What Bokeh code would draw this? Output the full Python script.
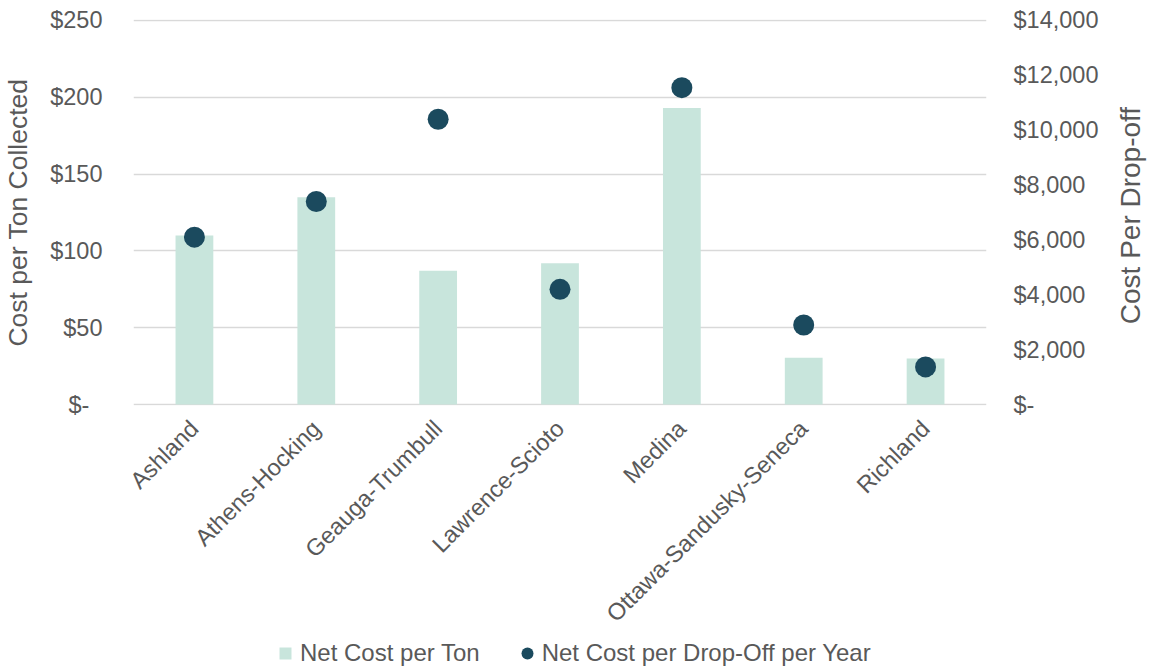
import math
from bokeh.plotting import figure
from bokeh.layouts import column, row
from bokeh.models import (Range1d, LinearAxis, FixedTicker, Legend, LegendItem,
                          ColumnDataSource, FactorRange, Label)
from bokeh.embed import file_html
from bokeh.resources import INLINE

categories = ["Ashland", "Athens-Hocking", "Geauga-Trumbull", "Lawrence-Scioto",
              "Medina", "Ottawa-Sandusky-Seneca", "Richland"]
net_cost_per_ton = [110, 135, 87, 92, 193, 30.5, 30]
net_cost_per_dropoff = [6100, 7400, 10400, 4200, 11550, 2900, 1370]

left_ticks = [0, 50, 100, 150, 200, 250]
left_tick_labels = ["$-\u00a0\u00a0", "$50", "$100", "$150", "$200", "$250"]
right_ticks = [0, 2000, 4000, 6000, 8000, 10000, 12000, 14000]
right_tick_labels = ["$-", "$2,000", "$4,000", "$6,000", "$8,000", "$10,000",
                     "$12,000", "$14,000"]
left_title = "Cost per Ton Collected"
right_title = "Cost Per Drop-off"
series_names = ["Net Cost per Ton", "Net Cost per Drop-Off per Year"]

BAR = "#C8E5DC"
DOT = "#1B4A5E"
TXT = "#595959"
GRID = "#D9D9D9"
FONT = "Liberation Sans"

src = ColumnDataSource(dict(cat=categories, ton=net_cost_per_ton, drop=net_cost_per_dropoff))

MAIN_W, MAIN_H = 1111, 638
# 1px of headroom on each side so the 0 and top grid lines are drawn inside the frame
pad_l = 250 / 385.3
pad_r = 14000 / 385.3
p = figure(x_range=FactorRange(*categories), y_range=Range1d(-pad_l, 250 + pad_l),
           width=MAIN_W, height=MAIN_H, output_backend="svg", toolbar_location=None,
           min_border_left=132, min_border_right=MAIN_W - 986, min_border_top=19,
           min_border_bottom=MAIN_H - 406)
p.title.visible = False
p.outline_line_color = None
p.extra_y_ranges = {"right": Range1d(-pad_r, 14000 + pad_r)}

bars = p.vbar(x="cat", top="ton", width=0.31, source=src, fill_color=BAR, line_color=None)
dots = p.scatter(x="cat", y="drop", y_range_name="right", size=21, source=src,
                 fill_color=DOT, line_color=None)

# grid
p.xgrid.grid_line_color = None
p.ygrid.grid_line_color = GRID
p.ygrid.grid_line_width = 1.5
p.ygrid.ticker = FixedTicker(ticks=left_ticks)
p.ygrid.level = "underlay"

# left axis
ly = p.yaxis[0]
ly.ticker = FixedTicker(ticks=left_ticks)
ly.major_label_overrides = {t: l for t, l in zip(left_ticks, left_tick_labels)}
ly.axis_label = left_title

ry = LinearAxis(y_range_name="right", ticker=FixedTicker(ticks=right_ticks))
ry.major_label_overrides = {t: l for t, l in zip(right_ticks, right_tick_labels)}
p.add_layout(ry, "right")

for ax in [ly, ry]:
    ax.axis_line_color = None
    ax.major_tick_line_color = None
    ax.minor_tick_line_color = None
    ax.major_tick_out = 0
    ax.major_label_text_font = FONT
    ax.major_label_text_font_size = "23.5px"
    ax.major_label_text_color = TXT
    ax.axis_label_text_font = FONT
    ax.axis_label_text_font_size = "26.5px"
    ax.axis_label_text_font_style = "normal"
    ax.axis_label_text_color = TXT
ly.major_label_standoff = 31
ry.major_label_standoff = 27
ly.axis_label_standoff = 14

xa = p.xaxis[0]
xa.axis_line_color = None
xa.major_tick_line_color = None
xa.major_tick_out = 0
xa.major_label_orientation = math.pi / 4
xa.major_label_standoff = 19
xa.major_label_text_font = FONT
xa.major_label_text_font_size = "23.5px"
xa.major_label_text_color = TXT

# right-hand axis title (reads bottom-to-top)
RT_W = 1151 - MAIN_W
rt = figure(width=RT_W, height=MAIN_H, x_range=Range1d(0, RT_W), y_range=Range1d(0, MAIN_H),
            output_backend="svg", toolbar_location=None, min_border=0,
            x_axis_location=None, y_axis_location=None)
rt.title.visible = False
rt.outline_line_color = None
rt.grid.visible = False
rt.add_layout(Label(x=18.5, y=314, text=right_title, angle=math.pi / 2,
                    text_align="center", text_baseline="middle", text_font=FONT,
                    text_font_size="28px", text_color=TXT))

# legend strip
LEG_H = 668 - MAIN_H
lg = figure(width=1151, height=LEG_H, x_range=FactorRange(*categories), y_range=Range1d(-2, -1),
            output_backend="svg", toolbar_location=None, min_border=0,
            x_axis_location=None, y_axis_location=None)
lg.title.visible = False
lg.outline_line_color = None
lg.grid.visible = False
# legend swatches (data lies outside this strip's view, only the swatches show)
sq = lg.scatter(x="cat", y="ton", source=src, marker="square", size=12,
                fill_color=BAR, line_color=None)
ci = lg.scatter(x="cat", y="drop", source=src, marker="circle", size=12,
                fill_color=DOT, line_color=None)
legend = Legend(items=[LegendItem(label=series_names[0], renderers=[sq]),
                       LegendItem(label=series_names[1], renderers=[ci])],
                orientation="horizontal", location=(270, 0),
                glyph_width=30, glyph_height=30, label_standoff=0, spacing=32,
                padding=0, margin=0, border_line_color=None, background_fill_alpha=0,
                label_text_font=FONT, label_text_font_size="24px",
                label_text_color=TXT)
lg.add_layout(legend, "center")

layout = column(row(p, rt), lg)
open("out.html", "w").write(file_html(layout, INLINE))
